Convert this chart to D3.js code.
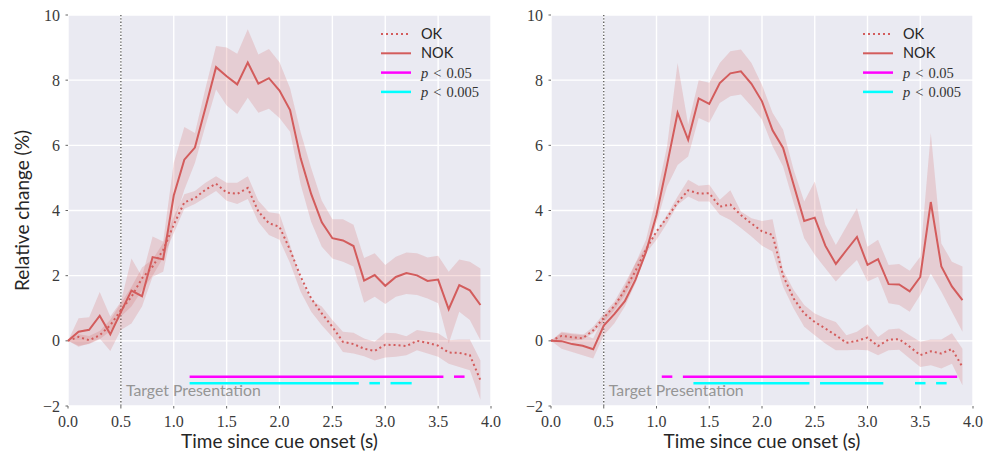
<!DOCTYPE html>
<html>
<head>
<meta charset="utf-8">
<script src="https://cdn.jsdelivr.net/npm/d3@7"></script>
<style>
  body { margin: 0; background: #fff; }
  .tick-label { font-family: "Liberation Serif", serif; font-size: 16px; fill: #3a3a3a; }
  .axis-label { font-family: Lato, sans-serif; font-size: 19px; fill: #262626; }
</style>
</head>
<body>
<div id="chart"></div>
<script>
// time bins (s)
var times = [0.0,0.1,0.2,0.3,0.4,0.5,0.6,0.7,0.8,0.9,1.0,1.1,1.2,1.3,1.4,1.5,1.6,1.7,1.8,1.9,
             2.0,2.1,2.2,2.3,2.4,2.5,2.6,2.7,2.8,2.9,3.0,3.1,3.2,3.3,3.4,3.5,3.6,3.7,3.8,3.9];

// left panel
var leftOk      = [0,0.12,0.02,0.17,0.48,0.94,1.35,1.92,2.28,2.79,3.56,4.25,4.38,4.64,4.82,4.55,4.51,4.69,3.97,3.61,
                   3.5,2.79,1.97,1.3,0.84,0.43,-0.03,-0.1,-0.24,-0.31,-0.12,-0.13,-0.16,0.0,-0.06,-0.15,-0.36,-0.37,-0.44,-1.21];
var leftOkHi    = [0,0.2,0.15,0.3,0.65,1.15,1.65,2.25,2.5,3.0,3.8,4.5,4.6,4.85,5.05,4.85,4.85,5.05,4.3,3.95,
                   3.9,2.94,1.87,1.25,1.05,0.64,0.28,0.25,0.07,-0.03,0.25,0.23,0.14,0.33,0.28,0.23,0.02,0.04,0.04,-0.6];
var leftOkLo    = [0,-0.15,-0.1,0.05,0.3,0.75,1.05,1.55,2.0,2.55,3.3,4.05,4.2,4.4,4.6,4.3,4.2,4.35,3.65,3.25,
                   3.1,2.38,1.51,0.89,0.48,0.12,-0.34,-0.39,-0.47,-0.6,-0.51,-0.49,-0.44,-0.29,-0.39,-0.49,-0.7,-0.8,-0.9,-1.81];
var leftNok     = [0,0.28,0.34,0.77,0.2,0.88,1.54,1.37,2.57,2.5,4.46,5.56,5.93,7.15,8.4,8.12,7.87,8.54,7.89,8.06,
                   7.68,7.08,5.6,4.5,3.64,3.15,3.08,2.91,1.85,2.02,1.69,1.96,2.08,2.01,1.84,1.88,0.97,1.71,1.55,1.1];
var leftNokHi   = [0,0.69,0.72,1.5,0.75,1.2,2.53,1.97,3.2,3.05,5.46,6.56,6.38,7.75,9.05,9.0,8.81,9.56,8.79,8.96,
                   8.55,7.75,6.4,5.3,4.3,3.73,3.73,3.56,2.54,2.69,2.33,2.58,2.71,2.69,2.56,2.61,2.12,2.5,2.43,2.22];
var leftNokLo   = [0,-0.18,-0.08,0.07,-0.31,0.33,0.53,1.05,1.97,2.12,3.61,4.64,5.46,6.6,7.71,7.22,6.96,7.46,7.0,7.12,
                   6.84,6.42,4.8,3.65,2.89,2.53,2.43,2.28,1.17,1.35,1.13,1.35,1.44,1.41,1.3,1.15,-0.08,0.89,0.64,0.02];
var leftP05     = [[1.15,3.55],[3.65,3.75]];
var leftP005    = [[1.15,2.75],[2.85,2.95],[3.05,3.25]];

// right panel
var rightOk     = [0,0.15,0.11,0.08,0.32,0.71,1.07,1.56,2.14,2.8,3.36,3.78,4.25,4.62,4.52,4.53,4.12,4.18,3.86,3.6,
                   3.36,3.25,2.0,1.3,0.84,0.58,0.38,0.17,-0.06,0.0,0.1,-0.16,0.04,0.05,-0.18,-0.44,-0.32,-0.39,-0.25,-0.8];
var rightOkHi   = [0,0.25,0.2,0.17,0.43,0.84,1.2,1.76,2.38,2.89,3.35,3.87,4.43,4.94,4.76,4.79,4.33,4.62,3.97,3.76,
                   3.68,3.73,2.17,1.56,1.1,0.84,0.69,0.58,0.17,0.28,0.51,0.12,0.35,0.38,0.17,-0.03,0.04,0.04,0.23,-0.24];
var rightOkLo   = [0,0.02,0,0.04,0.23,0.58,0.94,1.4,1.97,2.69,3.1,3.61,4.17,4.43,4.28,4.28,3.87,3.71,3.46,3.2,
                   2.92,2.74,1.66,0.99,0.43,0.17,-0.08,-0.29,-0.29,-0.27,-0.29,-0.44,-0.29,-0.27,-0.54,-0.8,-0.75,-0.85,-0.7,-1.36];
var rightNok    = [0,-0.01,-0.1,-0.15,-0.26,0.47,0.82,1.22,1.87,2.72,3.87,5.4,7.0,6.17,7.44,7.27,7.91,8.21,8.27,7.89,
                   7.35,6.46,5.92,4.79,3.68,3.78,2.92,2.36,2.78,3.19,2.33,2.51,1.74,1.73,1.52,1.96,4.26,2.28,1.67,1.25];
var rightNokHi  = [0,0.28,0.23,0.2,0.07,0.74,1.1,1.66,2.38,3.1,4.43,5.97,8.53,6.64,8.0,7.92,8.53,8.89,8.94,8.53,
                   7.85,7.0,6.48,5.25,4.28,4.89,3.56,2.94,3.51,4.07,2.89,3.1,2.33,2.36,2.15,2.58,6.38,2.99,2.43,2.28];
var rightNokLo  = [0,-0.24,-0.34,-0.44,-0.54,0.17,0.53,1.05,1.76,2.69,3.61,4.74,5.4,5.66,6.84,6.69,7.3,7.51,7.56,7.2,
                   6.79,5.97,5.35,4.23,3.15,2.64,2.23,1.82,2.17,2.48,1.82,1.97,1.15,1.1,0.89,1.41,2.07,1.51,0.89,0.28];
var rightP05    = [[1.05,1.15],[1.25,3.85]];
var rightP005   = [[1.35,2.45],[2.55,3.15],[3.45,3.55],[3.65,3.75]];

var xTicks = [0.0,0.5,1.0,1.5,2.0,2.5,3.0,3.5,4.0];
var yTicks = [-2,0,2,4,6,8,10];
var cueTime = 0.5;
var p05Level = -1.1, p005Level = -1.3;

var red = "#d35c5c";

var svg = d3.select("#chart").append("svg")
    .attr("width",1000)
    .attr("height",458);

function drawPanel(left, right, ok, okHi, okLo, nok, nokHi, nokLo, p05, p005, withYLabel) {
    var top = 15, bottom = 406;
    var x = d3.scaleLinear().domain([0,4]).range([left,right]);
    var y = d3.scaleLinear().domain([-2,10]).range([bottom,top]);
    var g = svg.append("g");

    g.append("rect")
        .attr("x",left).attr("y",top)
        .attr("width",right-left).attr("height",bottom-top)
        .attr("fill","#eaeaf2");

    // grid
    g.selectAll(".gx").data(xTicks).enter().append("line")
        .attr("x1",function(d){return x(d);}).attr("x2",function(d){return x(d);})
        .attr("y1",top).attr("y2",bottom)
        .attr("stroke","#fff").attr("stroke-width",1.4);
    g.selectAll(".gy").data(yTicks).enter().append("line")
        .attr("x1",left).attr("x2",right)
        .attr("y1",function(d){return y(d);}).attr("y2",function(d){return y(d);})
        .attr("stroke","#fff").attr("stroke-width",1.4);

    // ticks + labels
    g.selectAll(".tx").data(xTicks).enter().append("line")
        .attr("x1",function(d){return x(d);}).attr("x2",function(d){return x(d);})
        .attr("y1",bottom).attr("y2",bottom+2.5)
        .attr("stroke","#666").attr("stroke-width",1);
    g.selectAll(".ty").data(yTicks).enter().append("line")
        .attr("x1",left-2.5).attr("x2",left)
        .attr("y1",function(d){return y(d);}).attr("y2",function(d){return y(d);})
        .attr("stroke","#666").attr("stroke-width",1);
    g.selectAll(".lx").data(xTicks).enter().append("text")
        .attr("class","tick-label")
        .attr("x",function(d){return x(d);})
        .attr("y",bottom+21)
        .attr("text-anchor","middle")
        .text(function(d){return d.toFixed(1);});
    g.selectAll(".ly").data(yTicks).enter().append("text")
        .attr("class","tick-label")
        .attr("x",left-8)
        .attr("y",function(d){return y(d)+5.5;})
        .attr("text-anchor","end")
        .text(function(d){return d<0 ? "\u2212"+Math.abs(d) : d;});

    // cue line
    g.append("line")
        .attr("x1",x(cueTime)).attr("x2",x(cueTime))
        .attr("y1",top).attr("y2",bottom)
        .attr("stroke","#555").attr("stroke-width",1.3)
        .attr("stroke-dasharray","1.3,2");
    g.append("text")
        .attr("x",x(cueTime)+5).attr("y",396)
        .attr("font-family","Lato, sans-serif").attr("font-size",15.8)
        .attr("fill","#959595")
        .text("Target Presentation");

    // bands + lines
    function band(hi, lo) {
        return d3.area()
            .x(function(d,i){return x(times[i]);})
            .y0(function(d,i){return y(lo[i]);})
            .y1(function(d,i){return y(hi[i]);})(times);
    }
    function line(vals) {
        return d3.line()
            .x(function(d,i){return x(times[i]);})
            .y(function(d){return y(d);})(vals);
    }
    g.append("path").attr("d",band(okHi,okLo)).attr("fill",red).attr("fill-opacity",0.2);
    g.append("path").attr("d",band(nokHi,nokLo)).attr("fill",red).attr("fill-opacity",0.2);
    g.append("path").attr("d",line(ok))
        .attr("fill","none").attr("stroke",red).attr("stroke-width",2)
        .attr("stroke-dasharray","2,3");
    g.append("path").attr("d",line(nok))
        .attr("fill","none").attr("stroke",red).attr("stroke-width",2);

    // significance
    g.selectAll(".p05").data(p05).enter().append("line")
        .attr("x1",function(d){return x(d[0]);}).attr("x2",function(d){return x(d[1]);})
        .attr("y1",y(p05Level)).attr("y2",y(p05Level))
        .attr("stroke","#ff00ff").attr("stroke-width",2.5);
    g.selectAll(".p005").data(p005).enter().append("line")
        .attr("x1",function(d){return x(d[0]);}).attr("x2",function(d){return x(d[1]);})
        .attr("y1",y(p005Level)).attr("y2",y(p005Level))
        .attr("stroke","#00ffff").attr("stroke-width",2.5);

    // legend
    var lx = right - 110;
    var items = [
        {label:"OK", color:red, dash:"2,3", math:false},
        {label:"NOK", color:red, dash:null, math:false},
        {label:"0.05", color:"#ff00ff", dash:null, math:true},
        {label:"0.005", color:"#00ffff", dash:null, math:true}
    ];
    var lg = g.selectAll(".leg").data(items).enter().append("g")
        .attr("transform",function(d,i){return "translate("+lx+","+(34+i*19.3)+")";});
    lg.append("line")
        .attr("x1",0).attr("x2",30).attr("y1",0).attr("y2",0)
        .attr("stroke",function(d){return d.color;})
        .attr("stroke-width",function(d){return d.math ? 2.5 : 2;})
        .attr("stroke-dasharray",function(d){return d.dash;});
    lg.filter(function(d){return !d.math;}).append("text")
        .attr("x",40).attr("y",5)
        .attr("font-family","Lato, sans-serif").attr("font-size",14.5)
        .attr("fill","#262626")
        .text(function(d){return d.label;});
    var mt = lg.filter(function(d){return d.math;}).append("text")
        .attr("x",40).attr("y",5)
        .attr("font-family","'Liberation Serif', serif").attr("font-size",14.5)
        .attr("fill","#333");
    mt.append("tspan").attr("font-style","italic").text("p");
    mt.append("tspan").attr("dx",5).text("<");
    mt.append("tspan").attr("dx",5).text(function(d){return d.label;});

    // axis labels
    g.append("text")
        .attr("class","axis-label")
        .attr("x",(left+right)/2).attr("y",448)
        .attr("text-anchor","middle")
        .text("Time since cue onset (s)");
    if (withYLabel) {
        g.append("text")
            .attr("class","axis-label")
            .attr("transform","translate(29,"+((top+bottom)/2)+") rotate(-90)")
            .attr("text-anchor","middle")
            .text("Relative change (%)");
    }
}

drawPanel(68, 491, leftOk, leftOkHi, leftOkLo, leftNok, leftNokHi, leftNokLo, leftP05, leftP005, true);
drawPanel(551, 973, rightOk, rightOkHi, rightOkLo, rightNok, rightNokHi, rightNokLo, rightP05, rightP005, false);
</script>
</body>
</html>
